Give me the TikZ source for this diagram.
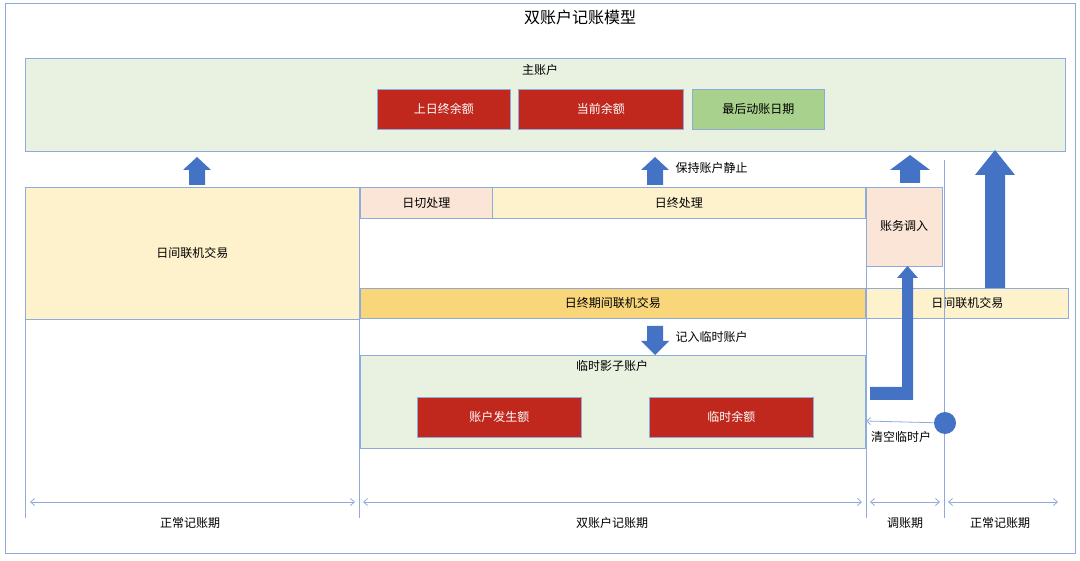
\documentclass[tikz,border=0pt]{standalone}
\usepackage{fontspec}
\setmainfont{Noto Sans CJK SC}
\usetikzlibrary{arrows.meta}
\definecolor{ab}{HTML}{4472C4}
\definecolor{ln}{HTML}{8FAADC}
\definecolor{lg}{HTML}{E9F1E1}
\definecolor{yl}{HTML}{FDF2CC}
\definecolor{pk}{HTML}{FBE5D6}
\definecolor{gd}{HTML}{F9D679}
\definecolor{rd}{HTML}{C0271D}
\definecolor{gr}{HTML}{A9D18E}
\newcommand{\blkup}[6]{\fill[ab] (#1-#6,#3) -- (#1-#6,#2+#4) -- (#1-#5,#2+#4) -- (#1,#2) -- (#1+#5,#2+#4) -- (#1+#6,#2+#4) -- (#1+#6,#3) -- cycle;}
\begin{document}
\begin{tikzpicture}[x=1pt,y=-1pt,font=\fontsize{12}{14}\selectfont,
  bx/.style={draw=ln,line width=0.8pt,anchor=north west,inner sep=0pt},
  rbox/.style={bx,fill=rd,text=white},
  dim/.style={draw=ln,line width=0.8pt,{Straight Barb[length=4pt,width=7pt]}-{Straight Barb[length=4pt,width=7pt]}},
  vl/.style={draw=ln,line width=0.8pt}]
\useasboundingbox (0,0) rectangle (1080,561);
\draw[ln,line width=0.8pt] (5,3) rectangle (1075,553);
\node (title) at (580,17) {\fontsize{16}{18}\selectfont 双账户记账模型};
% main account
\node[bx,fill=lg,minimum width=1040pt,minimum height=93pt] (main) at (25,58) {};
\node (mainl) at (540,70) {主账户};
\node[rbox,minimum width=133pt,minimum height=40pt] (r1) at (377,89) {上日终余额};
\node[rbox,minimum width=165pt,minimum height=40pt] (r2) at (518,89) {当前余额};
\node[bx,fill=gr,minimum width=132pt,minimum height=40pt] (g1) at (692,89) {最后动账日期};
% up arrows
\blkup{197}{157}{185}{13}{14}{8}
\blkup{655}{157}{185}{13}{14}{8}
\node[anchor=west] (keep) at (672,168) {保持账户静止};
\blkup{910}{155}{183}{15}{20}{10}
\blkup{995}{150}{288}{25}{20}{10}
% middle row
\node[bx,fill=yl,minimum width=334pt,minimum height=132pt] (day1) at (25,187) {日间联机交易};
\node[bx,fill=pk,minimum width=132pt,minimum height=31pt] (cut) at (360,187) {日切处理};
\node[bx,fill=yl,minimum width=373pt,minimum height=31pt] (eod) at (492,187) {日终处理};
\node[bx,fill=gd,minimum width=505pt,minimum height=30pt] (eodt) at (360,288) {日终期间联机交易};
\node[bx,fill=pk,minimum width=76pt,minimum height=79pt] (adj) at (866,187) {};
\node (adjl) at (904,226) {账务调入};
\node[bx,fill=yl,minimum width=202pt,minimum height=30pt] (day2) at (866,288) {日间联机交易};
% down arrow
\fill[ab] (647,326) -- (663,326) -- (663,341) -- (669,341) -- (655,355) -- (641,341) -- (647,341) -- cycle;
\node[anchor=west] (rec) at (672,337) {记入临时账户};
% shadow account
\node[bx,fill=lg,minimum width=505pt,minimum height=93pt] (shadow) at (360,355) {};
\node (shl) at (612,366) {临时影子账户};
\node[rbox,minimum width=164pt,minimum height=40pt] (r3) at (417,397) {账户发生额};
\node[rbox,minimum width=164pt,minimum height=40pt] (r4) at (649,397) {临时余额};
% L arrow
\fill[ab] (870,387) -- (902,387) -- (902,278) -- (897,278) -- (907.5,266) -- (918,278) -- (913,278) -- (913,400) -- (870,400) -- cycle;
% vertical lines
\draw[vl] (25,319) -- (25,518);
\draw[vl] (359,187) -- (359,518);
\draw[vl] (866,187) -- (866,518);
\draw[vl] (944,160) -- (944,518);
\node[circle,fill=ab,minimum size=22pt,inner sep=0pt] (dot) at (945,423) {};
\coordinate (clr) at (866,421);
\draw[draw=ln,line width=0.8pt,-{Straight Barb[length=4pt,width=7pt]}] (dot) -- (clr);
\node (clrl) at (901,437) {清空临时户};
% dimensions
\coordinate (d1a) at (30,502); \coordinate (d1b) at (355,502);
\coordinate (d2a) at (363,502); \coordinate (d2b) at (862,502);
\coordinate (d3a) at (870,502); \coordinate (d3b) at (940,502);
\coordinate (d4a) at (948,502); \coordinate (d4b) at (1058,502);
\draw[dim] (d1a) -- (d1b);
\draw[dim] (d2a) -- (d2b);
\draw[dim] (d3a) -- (d3b);
\draw[dim] (d4a) -- (d4b);
\node (p1) at (190,523) {正常记账期};
\node (p2) at (612,523) {双账户记账期};
\node (p3) at (905,523) {调账期};
\node (p4) at (1000,523) {正常记账期};
\end{tikzpicture}
\end{document}
